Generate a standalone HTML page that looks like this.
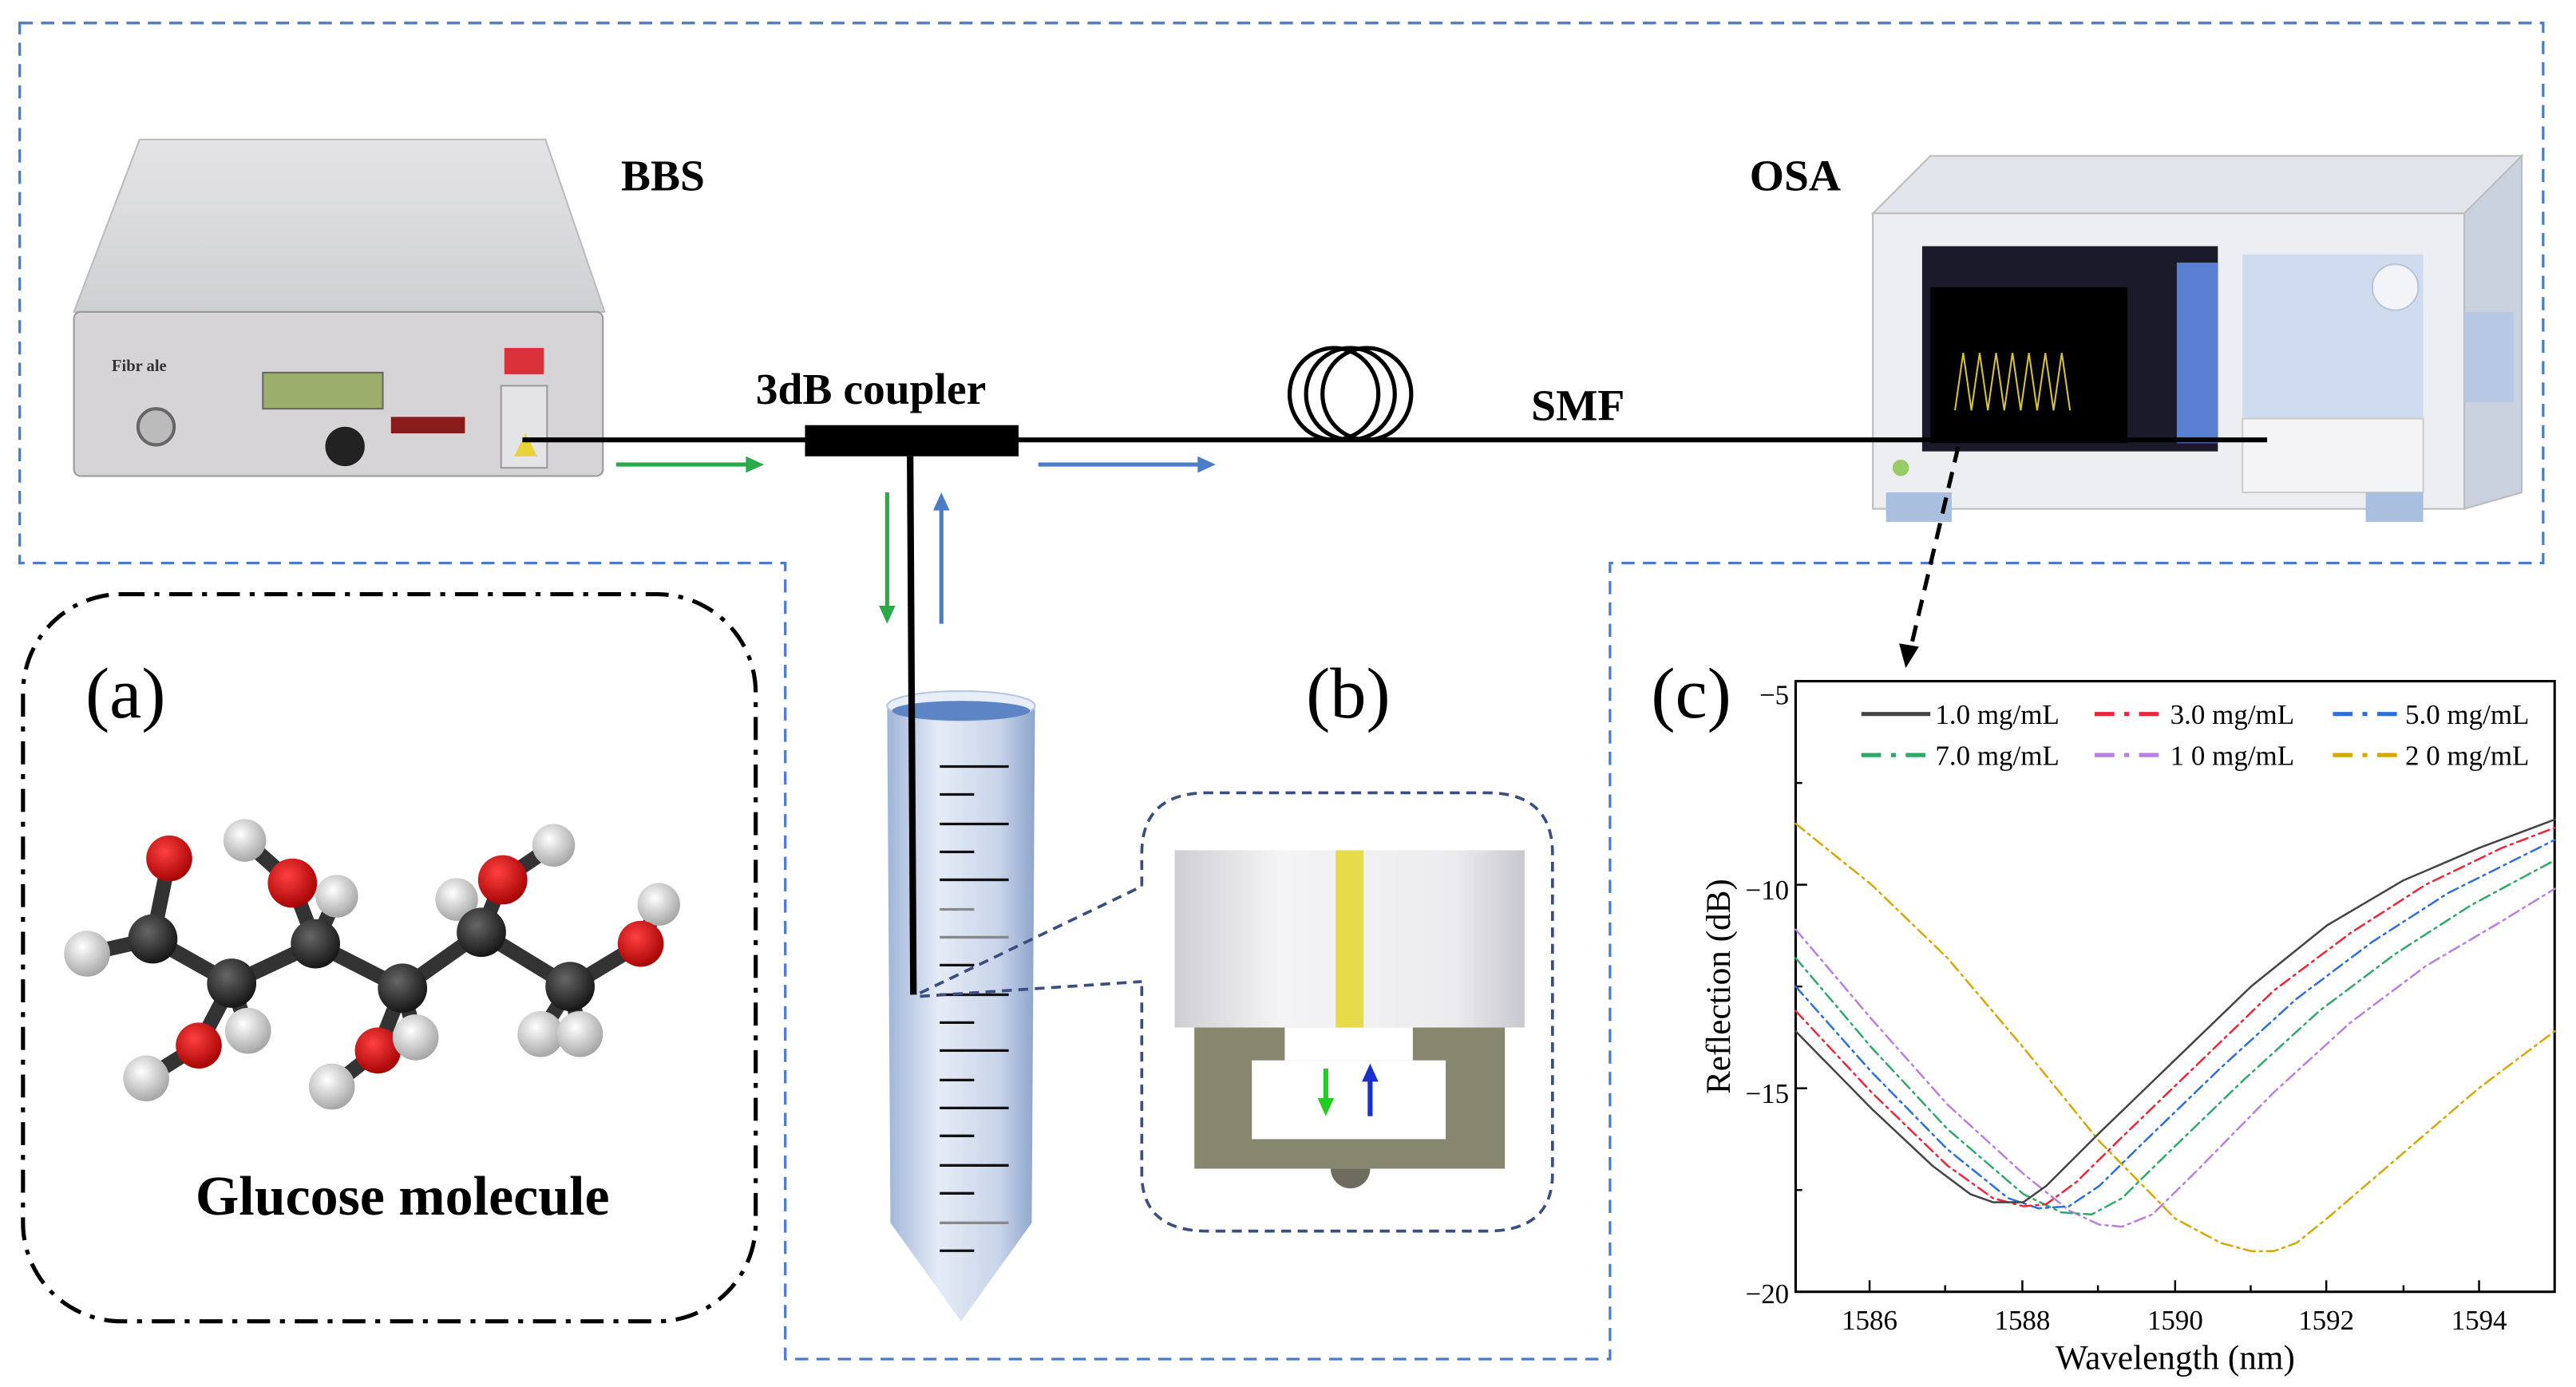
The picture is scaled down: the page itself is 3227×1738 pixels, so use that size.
<!DOCTYPE html>
<html><head><meta charset="utf-8">
<style>html,body{margin:0;padding:0;background:#fff;}svg{display:block;}</style>
</head><body>
<svg width="3227" height="1738" viewBox="0 0 1568 845" preserveAspectRatio="none" xmlns="http://www.w3.org/2000/svg" font-family="Liberation Serif, serif">
<defs>
<linearGradient id="tube" x1="0" x2="1"><stop offset="0" stop-color="#9fb4d8"/><stop offset="0.35" stop-color="#e6ecf6"/><stop offset="0.75" stop-color="#c9d5ea"/><stop offset="1" stop-color="#8fa5cc"/></linearGradient>
<linearGradient id="cyl" x1="0" x2="1"><stop offset="0" stop-color="#cfcfd3"/><stop offset="0.3" stop-color="#f4f4f6"/><stop offset="0.8" stop-color="#ececef"/><stop offset="1" stop-color="#c8c8d0"/></linearGradient>
<linearGradient id="bbsTop" x1="0" y1="0" x2="0" y2="1"><stop offset="0" stop-color="#e4e4e6"/><stop offset="1" stop-color="#cfd0d3"/></linearGradient>
<radialGradient id="gO" cx="0.4" cy="0.35" r="0.7"><stop offset="0" stop-color="#ff4040"/><stop offset="1" stop-color="#a00000"/></radialGradient>
<radialGradient id="gH" cx="0.4" cy="0.35" r="0.7"><stop offset="0" stop-color="#ffffff"/><stop offset="1" stop-color="#a0a0a0"/></radialGradient>
<radialGradient id="gC" cx="0.4" cy="0.35" r="0.7"><stop offset="0" stop-color="#666"/><stop offset="1" stop-color="#111"/></radialGradient>
</defs>

<path d="M12,14 H1548 V343 H980 V828 H478 V343 H12 Z" fill="none" stroke="#4a7cc7" stroke-width="1.6" stroke-dasharray="8,5"/>

<!-- BBS device -->
<polygon points="85,85 332,85 368,190 45,190" fill="url(#bbsTop)" stroke="#bbb" stroke-width="1"/>
<rect x="45" y="190" width="322" height="100" rx="4" fill="#d6d4d6" stroke="#999" stroke-width="1"/>
<rect x="160" y="227" width="73" height="22" fill="#9cae6c" stroke="#666"/>
<circle cx="95" cy="260" r="11" fill="#bbb" stroke="#666" stroke-width="2"/>
<circle cx="210" cy="272" r="12" fill="#222"/>
<rect x="238" y="254" width="45" height="10" fill="#8a1b1b"/>
<rect x="307" y="212" width="24" height="16" fill="#d9303a"/>
<rect x="305" y="235" width="28" height="50" fill="#e4e4e6" stroke="#999"/>
<polygon points="313,278 320,264 327,278" fill="#e8d23a"/>
<text x="68" y="226" font-size="10" font-weight="bold" fill="#333">Fibr ale</text>

<!-- OSA device -->
<polygon points="1140,130 1175,95 1535,95 1500,130" fill="#e2e6ec" stroke="#bbb"/>
<polygon points="1500,130 1535,95 1535,300 1500,310" fill="#c9d2de" stroke="#bbb"/>
<rect x="1140" y="130" width="360" height="180" fill="#eceef2" stroke="#bbb"/>
<rect x="1170" y="150" width="180" height="125" fill="#1a1a2a"/>
<rect x="1175" y="175" width="120" height="95" fill="#000"/>
<rect x="1325" y="160" width="25" height="110" fill="#5b7fd0"/>
<polyline points="1190,250 1195,215 1200,250 1205,215 1210,250 1215,215 1220,250 1225,215 1230,250 1235,215 1240,250 1245,215 1250,250 1255,215 1260,250" fill="none" stroke="#d6c23c" stroke-width="1"/>
<rect x="1365" y="155" width="110" height="105" fill="#cfdcef"/>
<circle cx="1458" cy="175" r="14" fill="#f2f4f8" stroke="#b8c3d6"/>
<rect x="1365" y="255" width="110" height="45" fill="#f4f4f6" stroke="#ccc"/>
<rect x="1148" y="300" width="40" height="18" fill="#a9bfdf"/>
<rect x="1440" y="300" width="35" height="18" fill="#a9bfdf"/>
<rect x="1500" y="190" width="30" height="55" fill="#b7c8e4"/>
<circle cx="1157" cy="285" r="5" fill="#9c6"/>

<!-- fiber -->
<line x1="318" y1="268" x2="490" y2="268" stroke="#000" stroke-width="3"/>
<rect x="490" y="259" width="130" height="19" fill="#000"/>
<line x1="620" y1="268" x2="1380" y2="268" stroke="#000" stroke-width="3"/>
<g fill="none" stroke="#000" stroke-width="2.5">
<ellipse cx="812" cy="240" rx="27" ry="28"/><ellipse cx="822" cy="240" rx="27" ry="28"/><ellipse cx="832" cy="240" rx="27" ry="28"/>
</g>

<g stroke-width="2.5">
<line x1="375" y1="283" x2="458" y2="283" stroke="#2aaa4a"/><polygon points="465,283 454,278 454,288" fill="#2aaa4a"/>
<line x1="632" y1="283" x2="733" y2="283" stroke="#4a7cc7"/><polygon points="740,283 729,278 729,288" fill="#4a7cc7"/>
<line x1="540" y1="300" x2="540" y2="372" stroke="#2aaa4a"/><polygon points="540,380 535,369 545,369" fill="#2aaa4a"/>
<line x1="573" y1="380" x2="573" y2="308" stroke="#4a7cc7"/><polygon points="573,300 568,311 578,311" fill="#4a7cc7"/>
</g>
<line x1="1192" y1="272" x2="1163" y2="395" stroke="#000" stroke-width="2.5" stroke-dasharray="10,6"/>
<polygon points="1160,407 1156,392 1168,394" fill="#000"/>

<g font-weight="bold" font-size="27" fill="#000">
<text x="378" y="116">BBS</text><text x="1065" y="116">OSA</text>
<text x="460" y="246">3dB coupler</text><text x="932" y="256">SMF</text>
</g>

<!-- (a) -->
<rect x="14" y="362" width="446" height="443" rx="60" fill="none" stroke="#000" stroke-width="2.5" stroke-dasharray="14,6,3,6"/>
<text x="52" y="437" font-size="44">(a)</text>
<text x="245" y="740" font-size="34" font-weight="bold" text-anchor="middle">Glucose molecule</text>
<g stroke="#333" stroke-width="9" stroke-linecap="round">
<polyline points="93,572 141,599 192,575 245,602 293,568 347,601 390,575" fill="none"/>
<line x1="93" y1="572" x2="103" y2="523"/><line x1="93" y1="572" x2="53" y2="581"/>
<line x1="141" y1="599" x2="121" y2="637"/><line x1="141" y1="599" x2="151" y2="628"/><line x1="121" y1="637" x2="89" y2="657"/>
<line x1="192" y1="575" x2="178" y2="538"/><line x1="178" y1="538" x2="149" y2="512"/><line x1="192" y1="575" x2="205" y2="546"/>
<line x1="245" y1="602" x2="230" y2="640"/><line x1="230" y1="640" x2="202" y2="662"/><line x1="245" y1="602" x2="253" y2="632"/>
<line x1="293" y1="568" x2="306" y2="536"/><line x1="306" y1="536" x2="337" y2="515"/><line x1="293" y1="568" x2="278" y2="548"/>
<line x1="347" y1="601" x2="329" y2="630"/><line x1="347" y1="601" x2="353" y2="630"/><line x1="390" y1="575" x2="401" y2="551"/>
</g>
<g>
<circle cx="149" cy="512" r="13" fill="url(#gH)"/><circle cx="337" cy="515" r="13" fill="url(#gH)"/>
<circle cx="278" cy="548" r="13" fill="url(#gH)"/><circle cx="205" cy="546" r="13" fill="url(#gH)"/>
<circle cx="103" cy="523" r="14" fill="url(#gO)"/><circle cx="178" cy="538" r="15" fill="url(#gO)"/><circle cx="306" cy="536" r="15" fill="url(#gO)"/>
<circle cx="401" cy="551" r="13" fill="url(#gH)"/><circle cx="390" cy="575" r="14" fill="url(#gO)"/>
<circle cx="53" cy="581" r="14" fill="url(#gH)"/>
<circle cx="93" cy="572" r="15" fill="url(#gC)"/><circle cx="141" cy="599" r="15" fill="url(#gC)"/><circle cx="192" cy="575" r="15" fill="url(#gC)"/>
<circle cx="245" cy="602" r="15" fill="url(#gC)"/><circle cx="293" cy="568" r="15" fill="url(#gC)"/><circle cx="347" cy="601" r="15" fill="url(#gC)"/>
<circle cx="121" cy="637" r="14" fill="url(#gO)"/><circle cx="230" cy="640" r="14" fill="url(#gO)"/>
<circle cx="151" cy="628" r="14" fill="url(#gH)"/><circle cx="253" cy="632" r="14" fill="url(#gH)"/>
<circle cx="89" cy="657" r="14" fill="url(#gH)"/><circle cx="202" cy="662" r="14" fill="url(#gH)"/>
<circle cx="329" cy="630" r="14" fill="url(#gH)"/><circle cx="353" cy="630" r="14" fill="url(#gH)"/>
</g>

<!-- tube -->
<path d="M540,430 L542,745 L585,805 L628,745 L630,430 Z" fill="url(#tube)"/>
<ellipse cx="585" cy="430" rx="45" ry="9" fill="#e8eef8" stroke="#b8c6de"/>
<ellipse cx="585" cy="433" rx="42" ry="6" fill="#5d84c4"/>
<line x1="554" y1="278" x2="556" y2="606" stroke="#000" stroke-width="4"/>
<g stroke="#111" stroke-width="1.6">
<line x1="572" y1="467" x2="614" y2="467"/><line x1="572" y1="484" x2="593" y2="484"/>
<line x1="572" y1="502" x2="614" y2="502"/><line x1="572" y1="519" x2="593" y2="519"/>
<line x1="572" y1="536" x2="614" y2="536"/><line x1="572" y1="554" x2="593" y2="554" stroke="#888"/>
<line x1="572" y1="571" x2="614" y2="571" stroke="#888"/><line x1="572" y1="588" x2="593" y2="588"/>
<line x1="572" y1="606" x2="614" y2="606"/><line x1="572" y1="623" x2="593" y2="623"/>
<line x1="572" y1="640" x2="614" y2="640"/><line x1="572" y1="658" x2="593" y2="658"/>
<line x1="572" y1="675" x2="614" y2="675"/><line x1="572" y1="692" x2="593" y2="692"/>
<line x1="572" y1="710" x2="614" y2="710"/><line x1="572" y1="727" x2="593" y2="727"/>
<line x1="572" y1="745" x2="614" y2="745" stroke="#888"/><line x1="572" y1="762" x2="593" y2="762"/>
</g>

<!-- (b) -->
<text x="795" y="437" font-size="44">(b)</text>
<g fill="none" stroke="#3a4f80" stroke-width="1.8" stroke-dasharray="6,4">
<path d="M695,540 V520 Q695,483 735,483 H905 Q945,483 945,520 V715 Q945,750 905,750 H735 Q695,750 695,715 V598"/>
<line x1="560" y1="605" x2="695" y2="540"/><line x1="560" y1="607" x2="695" y2="598"/>
</g>
<rect x="715" y="518" width="213" height="108" fill="url(#cyl)"/>
<rect x="813" y="518" width="17" height="108" fill="#e6dc4a"/>
<rect x="727" y="626" width="189" height="86" fill="#87866f"/>
<rect x="782" y="626" width="78" height="20" fill="#fff"/>
<rect x="762" y="646" width="118" height="48" fill="#fff"/>
<path d="M810,712 A12,12 0 0 0 834,712 Z" fill="#6d6c5e"/>
<line x1="807" y1="651" x2="807" y2="672" stroke="#22cc22" stroke-width="3"/><polygon points="807,680 802,669 812,669" fill="#22cc22"/>
<line x1="834" y1="680" x2="834" y2="657" stroke="#1a2fd0" stroke-width="3"/><polygon points="834,648 829,659 839,659" fill="#1a2fd0"/>

<!-- (c) plot -->
<text x="1005" y="437" font-size="44">(c)</text>
<rect x="1093" y="415" width="462" height="372" fill="none" stroke="#000" stroke-width="1.5"/>
<g font-size="17" fill="#000">
<text x="1089" y="429" text-anchor="end">−5</text>
<text x="1089" y="548" text-anchor="end">−10</text>
<text x="1089" y="672" text-anchor="end">−15</text>
<text x="1089" y="794" text-anchor="end">−20</text>
<text x="1138" y="810" text-anchor="middle">1586</text><text x="1231" y="810" text-anchor="middle">1588</text>
<text x="1324" y="810" text-anchor="middle">1590</text><text x="1416" y="810" text-anchor="middle">1592</text>
<text x="1509" y="810" text-anchor="middle">1594</text>
<text x="1324" y="834" text-anchor="middle" font-size="21">Wavelength (nm)</text>
<text transform="translate(1053,601) rotate(-90)" text-anchor="middle" font-size="21">Reflection (dB)</text>
</g>
<g stroke="#000" stroke-width="1.2">
<line x1="1138" y1="787" x2="1138" y2="780"/><line x1="1231" y1="787" x2="1231" y2="780"/><line x1="1324" y1="787" x2="1324" y2="780"/><line x1="1416" y1="787" x2="1416" y2="780"/><line x1="1509" y1="787" x2="1509" y2="780"/>
<line x1="1184" y1="787" x2="1184" y2="783"/><line x1="1277" y1="787" x2="1277" y2="783"/><line x1="1370" y1="787" x2="1370" y2="783"/><line x1="1463" y1="787" x2="1463" y2="783"/>
<line x1="1093" y1="539" x2="1100" y2="539"/><line x1="1093" y1="663" x2="1100" y2="663"/>
<line x1="1093" y1="477" x2="1097" y2="477"/><line x1="1093" y1="601" x2="1097" y2="601"/><line x1="1093" y1="725" x2="1097" y2="725"/>
</g>
<g transform="translate(1093,415) scale(46.2,24.8)" fill="none" stroke-linejoin="round" stroke-linecap="round">
<polyline vector-effect="non-scaling-stroke" stroke="#d4a800" stroke-width="2.5" stroke-dasharray="14,6,3,6" points="0,3.5 1,5 2,6.8 3,9 4,11.3 5,13.2 5.6,13.8 6,14 6.3,14 6.6,13.8 7,13.2 8,11.6 9,10 10,8.6"/>
<polyline vector-effect="non-scaling-stroke" stroke="#b97fe0" stroke-width="2.5" stroke-dasharray="14,6,3,6" points="0,6.1 1,8.3 2,10.4 3,12.1 3.6,13 4,13.35 4.3,13.4 4.7,13.1 5.3,12 6.3,10.1 7.3,8.4 8.3,7 9.3,5.9 10,5.1"/>
<polyline vector-effect="non-scaling-stroke" stroke="#2fa86a" stroke-width="2.5" stroke-dasharray="14,6,3,6" points="0,6.8 1,9 2,11 3,12.6 3.5,13.05 3.9,13.1 4.3,12.7 4.9,11.6 5.9,9.8 6.9,8.1 7.9,6.7 8.9,5.5 10,4.4"/>
<polyline vector-effect="non-scaling-stroke" stroke="#2a6fdc" stroke-width="2.5" stroke-dasharray="14,6,3,6" points="0,7.5 1,9.6 2,11.5 2.8,12.7 3.2,12.95 3.6,12.9 4,12.4 4.6,11.3 5.6,9.5 6.6,7.8 7.6,6.4 8.6,5.2 10,3.9"/>
<polyline vector-effect="non-scaling-stroke" stroke="#e8283a" stroke-width="2.5" stroke-dasharray="14,6,3,6" points="0,8.1 1,10.1 2,11.9 2.6,12.7 3,12.9 3.3,12.85 3.7,12.3 4.3,11.2 5.3,9.4 6.3,7.6 7.3,6.2 8.3,5 9.3,4.1 10,3.6"/>
<polyline vector-effect="non-scaling-stroke" stroke="#444" stroke-width="2.5" points="0,8.6 1,10.5 1.8,11.9 2.3,12.6 2.6,12.8 3,12.8 3.3,12.4 4,11.1 5,9.3 6,7.5 7,6 8,4.9 9,4.1 10,3.4"/>
</g>
<g stroke-width="2.5">
<line x1="1133" y1="435" x2="1175" y2="435" stroke="#444"/>
<line x1="1275" y1="435" x2="1318" y2="435" stroke="#e8283a" stroke-dasharray="12,6,3,6"/>
<line x1="1420" y1="435" x2="1461" y2="435" stroke="#2a6fdc" stroke-dasharray="12,6,3,6"/>
<line x1="1133" y1="460" x2="1175" y2="460" stroke="#2fa86a" stroke-dasharray="12,6,3,6"/>
<line x1="1275" y1="460" x2="1318" y2="460" stroke="#b97fe0" stroke-dasharray="12,6,3,6"/>
<line x1="1420" y1="460" x2="1461" y2="460" stroke="#d4a800" stroke-dasharray="12,6,3,6"/>
</g>
<g font-size="17" fill="#000">
<text x="1178" y="441">1.0 mg/mL</text><text x="1321" y="441">3.0 mg/mL</text><text x="1464" y="441">5.0 mg/mL</text>
<text x="1178" y="466">7.0 mg/mL</text><text x="1321" y="466">1 0 mg/mL</text><text x="1464" y="466">2 0 mg/mL</text>
</g>
</svg>
</body></html>
